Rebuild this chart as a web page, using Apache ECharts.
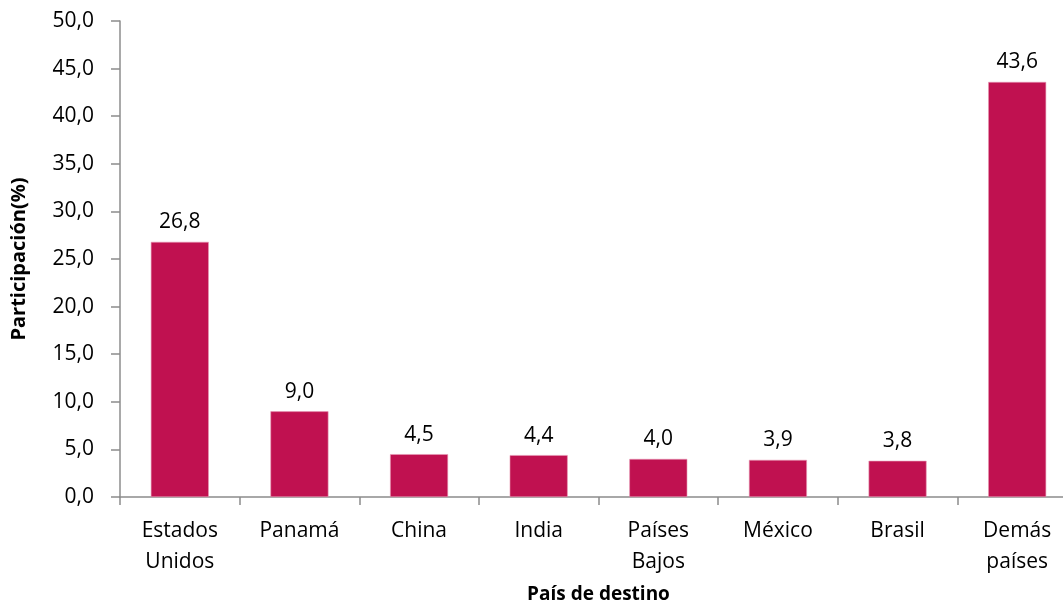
<!DOCTYPE html>
<html><head><meta charset="utf-8">
<script src="https://cdn.jsdelivr.net/npm/echarts@6/dist/echarts.min.js"></script>
<style>html,body{margin:0;padding:0;background:#fff}#c{width:1063px;height:604px}</style>
</head><body><div id="c"></div>
<script>
const categories = ["Estados\nUnidos", "Panamá", "China", "India", "Países\nBajos", "México", "Brasil", "Demás\npaíses"];
const values = [26.8, 9.0, 4.5, 4.4, 4.0, 3.9, 3.8, 43.6];
const yTicks = {min: 0, max: 50, interval: 5};
const fmt = v => Number(v).toFixed(1).replace('.', ',');
const font = "'Open Sans', 'Noto Sans', sans-serif";
const chart = echarts.init(document.getElementById('c'));
chart.setOption({
  animation: false,
  grid: {left: 120, right: -14, top: 21, bottom: 107, containLabel: false, outerBoundsMode: 'none'},
  xAxis: {
    type: 'category', data: categories,
    name: 'País de destino', nameLocation: 'middle', nameGap: 88,
    nameTextStyle: {fontFamily: font, fontSize: 19, fontWeight: 'bold', color: '#000'},
    axisLine: {lineStyle: {color: '#8c8c8c', width: 1.5}},
    axisTick: {show: true, length: 8, lineStyle: {color: '#8c8c8c', width: 1.5}},
    axisLabel: {fontFamily: font, fontSize: 21, color: '#000', margin: 19, lineHeight: 31, interval: 0}
  },
  yAxis: {
    type: 'value', min: yTicks.min, max: yTicks.max, interval: yTicks.interval,
    name: 'Participación(%)', nameLocation: 'middle', nameGap: 91, nameRotate: 90,
    nameTextStyle: {fontFamily: font, fontSize: 20, fontWeight: 'bold', color: '#000'},
    axisLine: {show: true, lineStyle: {color: '#8c8c8c', width: 1.5}},
    axisTick: {show: true, length: 9, lineStyle: {color: '#8c8c8c', width: 1.5}},
    splitLine: {show: false},
    axisLabel: {fontFamily: font, fontSize: 21, color: '#000', margin: 26, formatter: fmt}
  },
  series: [{
    type: 'bar', data: values, barWidth: 58,
    itemStyle: {color: '#C01150', borderColor: '#e79ab6', borderWidth: 0.6},
    label: {show: true, position: 'top', distance: 9, fontFamily: font, fontSize: 21, color: '#000', formatter: p => fmt(p.value)}
  }]
});
</script></body></html>
